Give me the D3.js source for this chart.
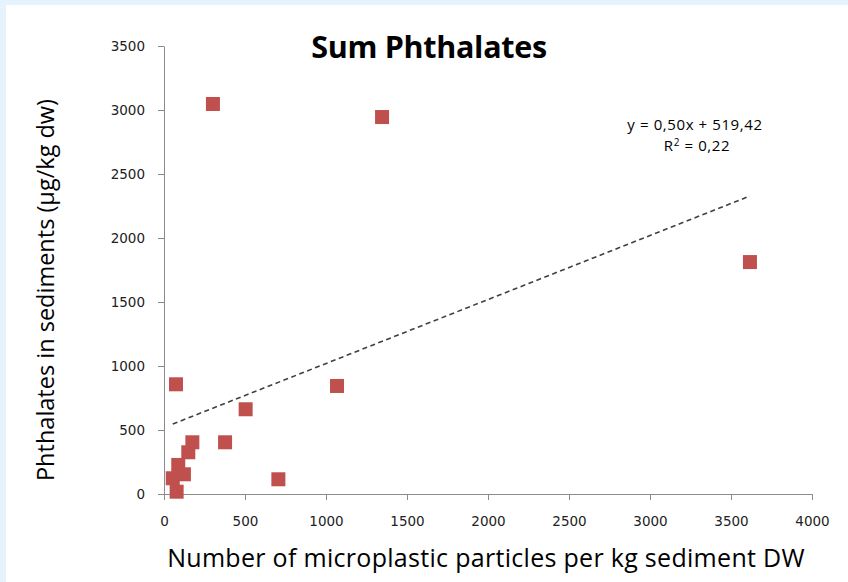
<!DOCTYPE html>
<meta charset="utf-8">
<style>
body { margin: 0; background: #fff; }
text { fill: #000; }
.tick text { font-family: "DejaVu Sans", Verdana, sans-serif; font-size: 13.5px; fill: #222; }
.tick line, .domain { stroke: #8c8c8c; }
</style>
<body>
<div id="chart"></div>
<script src="https://cdnjs.cloudflare.com/ajax/libs/d3/7.8.5/d3.min.js"></script>
<script>

var width = 848,
    height = 582;

// microplastic particles per kg sediment DW
var particles = [54, 78, 88, 123, 150, 175, 377, 74, 504, 706, 1068, 302, 1346, 3617];
// phthalates in sediments (µg/kg dw)
var phthalates = [123, 18, 227, 154, 326, 404, 404, 857, 662, 115, 844, 3047, 2945, 1812];

var xTicks = [0, 500, 1000, 1500, 2000, 2500, 3000, 3500, 4000];
var yTicks = [0, 500, 1000, 1500, 2000, 2500, 3000, 3500];

// trendline from the equation shown
var slope = 0.50,
    intercept = 519.42;

var svg = d3.select("#chart").append("svg")
    .attr("width", width)
    .attr("height", height);

// light blue frame
svg.append("rect").attr("width", width).attr("height", height).attr("fill", "#e6f3fc");
svg.append("rect").attr("x", 6).attr("y", 5).attr("width", width - 6).attr("height", height - 5).attr("fill", "#fff");

var x = d3.scaleLinear().domain([0, 4000]).range([164, 812]);
var y = d3.scaleLinear().domain([0, 3500]).range([494, 46]);

svg.append("g")
    .attr("transform", "translate(0," + y(0) + ")")
    .call(d3.axisBottom(x).tickValues(xTicks).tickFormat(d3.format("d")).tickSize(6).tickSizeOuter(0).tickPadding(16));

svg.append("g")
    .attr("transform", "translate(" + x(0) + ",0)")
    .call(d3.axisLeft(y).tickValues(yTicks).tickFormat(d3.format("d")).tickSize(6).tickSizeOuter(0).tickPadding(13));

// trend line
var xMin = d3.min(particles), xMax = d3.max(particles);
svg.append("line")
    .attr("x1", x(xMin)).attr("y1", y(slope * xMin + intercept))
    .attr("x2", x(xMax)).attr("y2", y(slope * xMax + intercept))
    .attr("stroke", "#404040")
    .attr("stroke-width", 1.6)
    .attr("stroke-dasharray", "5,3.5");

var sq = 14;
svg.selectAll("rect.pt")
    .data(particles)
    .enter().append("rect")
    .attr("class", "pt")
    .attr("x", (d) => x(d) - sq / 2)
    .attr("y", (d, i) => y(phthalates[i]) - sq / 2)
    .attr("width", sq)
    .attr("height", sq)
    .attr("fill", "#c0504d");

svg.append("text")
    .attr("x", 429).attr("y", 58)
    .attr("text-anchor", "middle")
    .style("font-family", "'Open Sans', sans-serif")
    .style("font-weight", "bold")
    .style("font-size", "30.5px")
    .style("letter-spacing", "-0.3px")
    .text("Sum Phthalates");

svg.append("text")
    .attr("x", 695).attr("y", 130)
    .attr("text-anchor", "middle")
    .style("font-family", "'Open Sans', sans-serif")
    .style("font-size", "15px")
    .style("letter-spacing", "0.6px")
    .text("y = 0,50x + 519,42");

svg.append("text")
    .attr("x", 697).attr("y", 151)
    .attr("text-anchor", "middle")
    .style("font-family", "'Open Sans', sans-serif")
    .style("font-size", "15px")
    .style("letter-spacing", "0.6px")
    .html("R<tspan dy='-5' font-size='10px'>2</tspan><tspan dy='5'> = 0,22</tspan>");

svg.append("text")
    .attr("x", 486).attr("y", 567)
    .attr("text-anchor", "middle")
    .style("font-family", "'Open Sans', sans-serif")
    .style("font-size", "25px")
    .style("letter-spacing", "0.3px")
    .text("Number of microplastic particles per kg sediment DW");

svg.append("text")
    .attr("transform", "translate(54,290) rotate(-90)")
    .attr("text-anchor", "middle")
    .style("font-family", "'Open Sans', sans-serif")
    .style("font-size", "23.5px")
    .text("Phthalates in sediments (µg/kg dw)");

</script>
</body>
